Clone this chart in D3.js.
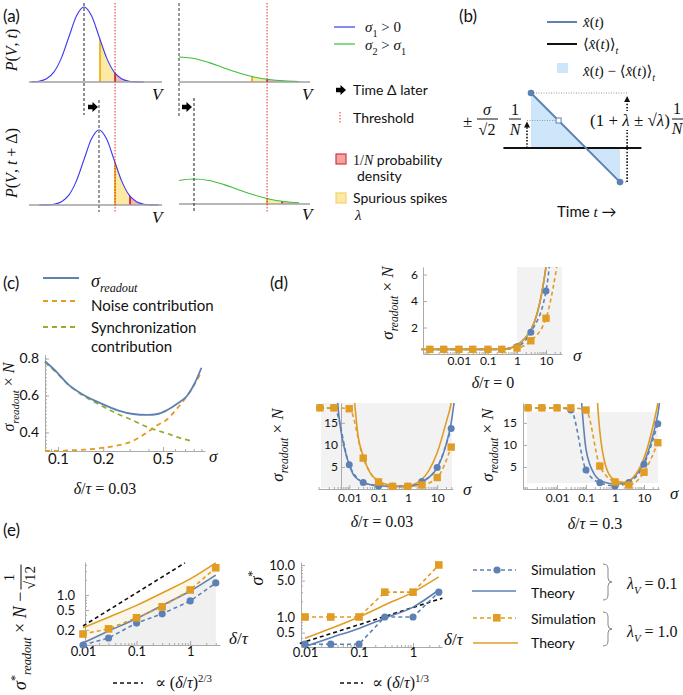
<!DOCTYPE html>
<html lang="en">
<head>
<meta charset="utf-8">
<title>Readout error figure</title>
<style>
  body{ margin:0; background:#fff; }
  svg{ display:block; }
</style>
</head>
<body>
<div id="chart"></div>
<script src="https://d3js.org/d3.v7.min.js"></script>
<script>
// ---------------- values ----------------
// (a) pulse shapes: height relative to peak, offset from the mean (V units)
const narrowOffsets = [-4,-3.5,-3,-2.5,-2,-1.5,-1,-0.5,0,0.5,1,1.5,2,2.5,3,3.5,4];
const narrowHeights = [0,0.002,0.011,0.044,0.135,0.325,0.607,0.882,1,0.882,0.607,0.325,0.135,0.044,0.011,0.002,0];
const wideOffsets = [-1,0,1,2,3,4,5,6,7,8,9];
const wideHeights = [0.94,1,0.94,0.775,0.563,0.36,0.203,0.1,0.044,0.017,0.006];
const meanShift = 1;
const thrNarrow = 2.07, thrWide = 5.87;

// (b) schematic readout
const bTime = [0, 1];
const bXhat = [1, -0.62];
const bMean = 0;
const bMeanSpan = [-0.31, 1.24];
const bMarkTime = 0.31, bMarkValue = 0.5;

// (c) delta/tau = 0.03
const cSigma    = [0.082,0.1,0.115,0.15,0.19,0.25,0.316,0.39,0.46,0.53,0.62,0.725,0.81,0.9];
const cReadout  = [0.785,0.72,0.665,0.60,0.56,0.52,0.50,0.495,0.50,0.52,0.555,0.60,0.665,0.75];
const cNoise    = [0.30,0.301,0.303,0.307,0.315,0.33,0.355,0.40,0.44,0.47,0.53,0.60,0.66,0.73];
const cSyncSigma = [0.082,0.1,0.115,0.15,0.19,0.25,0.316,0.39,0.46,0.53,0.62,0.725,0.8];
const cSync      = [0.78,0.715,0.665,0.595,0.55,0.50,0.465,0.43,0.41,0.395,0.375,0.36,0.352];

// (d) readout error vs sigma
const dSigma = [0.001,0.003,0.01,0.03,0.1,0.3,1,3,10,30];
const d0SimLow   = [0.35,0.35,0.35,0.35,0.35,0.35,0.55,1.65,4.75,17];
const d0SimHigh  = [0.35,0.35,0.35,0.35,0.35,0.35,0.45,1.0,2.7,8];
const d03SimLow  = [18.4,18.4,5.5,1.5,0.7,0.6,0.6,1.7,4.9,13.7];
const d03SimHigh = [18.4,18.4,18.2,7.0,1.6,0.6,0.6,0.9,2.6,9.5];
const d3SimLow   = [18.4,18.4,18.4,17.9,4.3,1.4,0.7,1.5,5.6,14.8];
const d3SimHigh  = [18.4,18.4,18.4,18.4,17.9,5.2,1.6,0.9,3.8,10.5];
const d0TheorySigma = [0.0005,0.001,0.01,0.1,0.3,0.6,1,2,3,5,7,10,15];
const d0TheoryLow   = [0.35,0.35,0.35,0.35,0.36,0.45,0.68,1.25,1.8,3.1,4.5,6.6,10];
const d0TheoryHigh  = [0.35,0.35,0.35,0.35,0.36,0.45,0.68,1.25,1.8,3.1,4.5,6.6,10];
const dTheorySigma  = [0.003,0.004,0.005,0.007,0.01,0.014,0.02,0.03,0.05,0.1,0.2,0.3,0.6,1,2,3,5,10,20,30,40];
const d03TheoryLow  = [40,20,14,9,5.5,3.2,2.2,1.5,1.0,0.72,0.62,0.6,0.6,0.62,0.9,1.5,2.5,4.8,10,15,21];
const d03TheoryHigh = [100,80,60,45,30,22,12,7.5,3.8,1.8,1.0,0.8,0.68,0.75,1.4,2.2,4.0,8.2,15,19.5,25];
const d3TheoryLow   = [200,180,160,130,100,80,60,45,32,9,3.2,2.0,1.3,1.1,1.3,1.8,3.0,6.0,12,17,23];
const d3TheoryHigh  = [300,280,260,230,200,180,160,150,150,80,30,13,3.5,2.0,1.5,1.9,3.2,7.0,14,19.5,25];

// (e) optimum vs delta/tau
const eRatio = [0.01,0.03,0.1,0.3,1,3];
const eLeftSimLow     = [0.1,0.138,0.275,0.42,0.76,1.74];
const eLeftSimHigh    = [0.166,0.21,0.35,0.58,1.26,3.5];
const eLeftTheoryLow  = [0.11,0.19,0.34,0.62,1.2,2.5];
const eLeftTheoryHigh = [0.22,0.36,0.62,1.1,2.1,4.4];
const eLeftRefX = [0.01, 0.8], eLeftRefY = [0.24, 4.4];
const eMidSimLow      = [0.3,0.3,0.3,1.0,1.0,3.0];
const eMidSimHigh     = [1,1,1,3,3,10];
const eMidTheoryLow   = [0.27,0.4,0.6,0.95,1.55,3.3];
const eMidTheoryHigh  = [0.39,0.6,1.0,1.7,3.0,5.9];
const eMidRefX = [0.008, 3.5], eMidRefY = [0.31, 2.3];

// ---------------- drawing ----------------
const W = 683, H = 695;
const sans = "Lato, 'Open Sans', sans-serif";
const serif = "'Liberation Serif', 'DejaVu Serif', serif";
const blue = '#5e81b5', orange = '#e19c24', green = '#8fb032';
const gaussBlue = '#3a3af0', gaussGreen = '#3cbf3c';

const svg = d3.select('#chart').append('svg').attr('width', W).attr('height', H);
svg.append('rect').attr('width', W).attr('height', H).attr('fill', '#fff');

function mtext(parent, x, y, parts, size, anchor){
  const t = parent.append('text').attr('x', x).attr('y', y)
    .attr('font-family', serif).attr('font-size', size)
    .attr('text-anchor', anchor || 'start').attr('fill', '#111');
  let shift = 0;
  parts.forEach(([str, st]) => {
    const s = t.append('tspan').text(str);
    let target = 0;
    if (st.includes('b')) target = size * 0.3;
    if (st.includes('p')) target = -size * 0.4;
    if (st.includes('b') || st.includes('p')) s.attr('font-size', size * 0.68);
    if (target !== shift){ s.attr('dy', target - shift); shift = target; }
    if (st.includes('i')) s.attr('font-style', 'italic');
    if (st.includes('s')) s.attr('font-family', sans);
  });
  return t;
}
function stext(parent, x, y, str, size, anchor){
  return parent.append('text').attr('x', x).attr('y', y).attr('font-family', sans)
    .attr('font-size', size).attr('text-anchor', anchor || 'start').attr('fill', '#111').text(str);
}
function seg(parent, x1, y1, x2, y2, color, width, dash){
  const l = parent.append('line').attr('x1', x1).attr('y1', y1).attr('x2', x2).attr('y2', y2)
    .attr('stroke', color).attr('stroke-width', width);
  if (dash) l.attr('stroke-dasharray', dash);
  return l;
}
function rotLabel(parent, cx, cy, parts, size){
  const g = parent.append('g').attr('transform', 'translate(' + cx + ',' + cy + ') rotate(-90)');
  mtext(g, 0, size * 0.3, parts, size, 'middle');
}
function blockArrow(parent, x, y){
  parent.append('path').attr('transform', 'translate(' + x + ',' + y + ')')
    .attr('d', 'M0,-2.2H4.5V-5L10,0L4.5,5V2.2H0Z').attr('fill', '#000');
}
function axis(parent, kind, scale, at, major, minor, fmt, fs, pad){
  const mk = kind === 'x' ? d3.axisBottom : d3.axisLeft;
  const tr = kind === 'x' ? 'translate(0,' + at + ')' : 'translate(' + at + ',0)';
  const dom = scale.domain();
  const lo = Math.min(dom[0], dom[1]), hi = Math.max(dom[0], dom[1]);
  if (minor){
    parent.append('g').attr('transform', tr)
      .call(mk(scale).tickValues(minor.filter(v => v >= lo && v <= hi)).tickSize(-2).tickFormat(''))
      .call(s => { s.select('.domain').remove(); s.selectAll('line').attr('stroke', '#aaa'); });
  }
  const g = parent.append('g').attr('transform', tr)
    .call(mk(scale).tickValues(major).tickSize(-4).tickSizeOuter(0).tickPadding(pad).tickFormat(fmt));
  g.select('.domain').attr('stroke', '#aaa');
  g.selectAll('line').attr('stroke', '#aaa');
  g.selectAll('text').attr('font-family', sans).attr('font-size', fs).attr('fill', '#111');
  return g;
}
const minorLog = [2,3,4,5,6,7,8,9].flatMap(m => [0.0001,0.001,0.01,0.1,1,10].map(e => +(m * e).toPrecision(3)));
const readoutLabel = [['σ','i'],['readout','ib'],[' × ',''],['N','i']];

// panel letters
stext(svg, 3, 22, '(a)', 17);
stext(svg, 459, 22, '(b)', 17);
stext(svg, 3, 289, '(c)', 17);
stext(svg, 270, 289, '(d)', 17);
stext(svg, 3, 536, '(e)', 17);

// ===== (a) =====
const xNarrow = d3.scaleLinear().domain([-3.67, 5.2]).range([29, 162]);
const xWide = d3.scaleLinear().domain([0, 8.73]).range([179, 310]);
const aPlots = [
  {x: xNarrow, offs: narrowOffsets, h: narrowHeights, mean: 0, base: 82, peak: 7, color: gaussBlue, thr: thrNarrow, after: false},
  {x: xNarrow, offs: narrowOffsets, h: narrowHeights, mean: meanShift, base: 205, peak: 130, color: gaussBlue, thr: thrNarrow, after: true},
  {x: xWide, offs: wideOffsets, h: wideHeights, mean: 0, base: 82, peak: 57, color: gaussGreen, thr: thrWide, after: false},
  {x: xWide, offs: wideOffsets, h: wideHeights, mean: meanShift, base: 204, peak: 179, color: gaussGreen, thr: thrWide, after: true}
];
aPlots.forEach((p, i) => {
  const y = d3.scaleLinear().domain([0, 1]).range([p.base, p.peak]);
  const [d0, d1] = p.x.domain();
  const pts = p.offs.map((o, k) => [p.mean + o, p.h[k]]).filter(q => q[0] >= d0 - 1e-6 && q[0] <= d1);
  const area = d3.area().x(q => p.x(q[0])).y0(p.base).y1(q => y(q[1])).curve(d3.curveMonotoneX);
  const line = d3.line().x(q => p.x(q[0])).y(q => y(q[1])).curve(d3.curveMonotoneX);
  svg.append('clipPath').attr('id', 'pa' + i).append('path').attr('d', area(pts));
  const yl = p.after ? p.thr : p.thr - meanShift;
  const rl = yl + meanShift;
  const g = svg.append('g').attr('clip-path', 'url(#pa' + i + ')');
  g.append('rect').attr('x', p.x(yl)).attr('y', p.peak).attr('width', p.x(rl) - p.x(yl))
    .attr('height', p.base - p.peak).attr('fill', '#fde9a6');
  g.append('rect').attr('x', p.x(rl)).attr('y', p.peak).attr('width', p.x(d1) - p.x(rl))
    .attr('height', p.base - p.peak).attr('fill', '#f6b8b8');
  seg(g, p.x(yl), p.peak, p.x(yl), p.base, '#f2b320', 2);
  seg(g, p.x(rl), p.peak, p.x(rl), p.base, '#d0393b', 2);
  svg.append('path').attr('d', line(pts)).attr('fill', 'none').attr('stroke', p.color).attr('stroke-width', 1.1);
  seg(svg, p.x.range()[0], p.base, p.x.range()[1], p.base, '#a0a0a0', 1.5);
});
seg(svg, xNarrow(0), 3, xNarrow(0), 115, '#222', 1, '3,2');
seg(svg, xNarrow(meanShift), 100, xNarrow(meanShift), 212, '#999', 2, '3,2');
seg(svg, xWide(0), 3, xWide(0), 116, '#999', 2, '3,2');
seg(svg, xWide(meanShift), 98, xWide(meanShift), 212, '#222', 1, '3,2');
seg(svg, xNarrow(thrNarrow), 3, xNarrow(thrNarrow), 212, '#e03030', 1, '1.5,1.5');
seg(svg, xWide(thrWide), 3, xWide(thrWide), 212, '#e03030', 1, '1.5,1.5');
blockArrow(svg, 88, 107);
blockArrow(svg, 182, 107);
[[152, 100], [152, 223], [302, 100], [302, 220]].forEach(([x, y]) => mtext(svg, x, y, [['V','i']], 17));
rotLabel(svg, 12, 50, [['P','i'],['(',''],['V','i'],[', ',''],['t','i'],[')','']], 16);
rotLabel(svg, 12, 163, [['P','i'],['(',''],['V','i'],[', ',''],['t','i'],[' + Δ)','']], 16);

// legend (a)
seg(svg, 334, 27, 355, 27, gaussBlue, 1.2);
mtext(svg, 365, 32, [['σ','i'],['1','b'],[' > 0','']], 15);
seg(svg, 334, 44, 355, 44, gaussGreen, 1.2);
mtext(svg, 365, 50, [['σ','i'],['2','b'],[' > ',''],['σ','i'],['1','b']], 15);
blockArrow(svg, 336, 90);
stext(svg, 353, 95, 'Time Δ later', 14);
seg(svg, 340, 112, 340, 124, '#e03030', 1, '1.5,1.5');
stext(svg, 353, 123, 'Threshold', 14);
svg.append('rect').attr('x', 336).attr('y', 154).attr('width', 10).attr('height', 10)
  .attr('fill', '#f4a3a3').attr('stroke', '#d0393b').attr('stroke-width', 1.2);
mtext(svg, 353, 165, [['1/',''],['N','i'],[' probability','s']], 14);
stext(svg, 357, 181, 'density', 14);
svg.append('rect').attr('x', 336).attr('y', 193).attr('width', 10).attr('height', 10)
  .attr('fill', '#fde9a6').attr('stroke', '#f5d06a').attr('stroke-width', 1.2);
stext(svg, 353, 203, 'Spurious spikes', 14);
mtext(svg, 355, 220, [['λ','i']], 15);

// ===== (b) =====
const bx = d3.scaleLinear().domain([0, 1]).range([531, 620]);
const by = d3.scaleLinear().domain([-1, 1]).range([203, 93]);
const bCross = bTime[0] + (bTime[1] - bTime[0]) * (bXhat[0] - bMean) / (bXhat[0] - bXhat[1]);
svg.append('path').attr('fill', '#cde6fa').attr('d',
  'M' + bx(bTime[0]) + ',' + by(bXhat[0]) + 'L' + bx(bTime[0]) + ',' + by(bMean) + 'L' + bx(bCross) + ',' + by(bMean) + 'Z' +
  'M' + bx(bCross) + ',' + by(bMean) + 'L' + bx(bTime[1]) + ',' + by(bMean) + 'L' + bx(bTime[1]) + ',' + by(bXhat[1]) + 'Z');
seg(svg, bx(bTime[0]), by(bXhat[0]), bx(1.08), by(bXhat[0]), '#999', 1, '1,1.5');
seg(svg, bx(-0.045), by(bMarkValue), bx(bMarkTime), by(bMarkValue), '#999', 1, '1,1.5');
seg(svg, bx(bTime[1]), by(bXhat[1]), bx(1.08), by(bXhat[1]), '#999', 1, '1,1.5');
seg(svg, bx(bMeanSpan[0]), by(bMean), bx(bMeanSpan[1]), by(bMean), '#111', 2);
function dotArrow(x, y1, y2){
  seg(svg, x, y1, x, y2 + 5, '#111', 1.6, '1.6,1.6');
  svg.append('path').attr('d', 'M' + (x - 3) + ',' + (y2 + 6) + 'L' + x + ',' + y2 + 'L' + (x + 3) + ',' + (y2 + 6) + 'Z').attr('fill', '#111');
}
dotArrow(bx(-0.045), by(bMean), by(bMarkValue) + 1);
dotArrow(bx(1.08), by(bXhat[1]), by(bXhat[0]) + 3);
svg.append('line').attr('x1', bx(bTime[0])).attr('y1', by(bXhat[0])).attr('x2', bx(bTime[1])).attr('y2', by(bXhat[1]))
  .attr('stroke', blue).attr('stroke-width', 2);
svg.selectAll(null).data(bTime).enter().append('circle')
  .attr('cx', d => bx(d)).attr('cy', (d, i) => by(bXhat[i])).attr('r', 3.3).attr('fill', blue);
svg.append('rect').attr('x', bx(bMarkTime) - 2.5).attr('y', by(bMarkValue) - 2.5).attr('width', 5).attr('height', 5)
  .attr('fill', '#fff').attr('stroke', blue).attr('stroke-width', 1);
// formulas
mtext(svg, 463, 127, [['±','']], 17);
mtext(svg, 487, 115, [['σ','i']], 16, 'middle');
seg(svg, 477, 119, 498, 119, '#111', 1);
mtext(svg, 487, 135, [['√2','']], 16, 'middle');
mtext(svg, 515, 115, [['1','']], 16, 'middle');
seg(svg, 509, 119, 521, 119, '#111', 1);
mtext(svg, 515, 135, [['N','i']], 16, 'middle');
svg.append('rect').attr('x', 590).attr('y', 111).attr('width', 80).attr('height', 19).attr('fill', '#fff');
mtext(svg, 590, 126, [['(1 + ',''],['λ','i'],[' ± √',''],['λ','i'],[')','']], 17);
mtext(svg, 677, 114, [['1','']], 16, 'middle');
seg(svg, 672, 119, 683, 119, '#111', 1);
mtext(svg, 677, 134, [['N','i']], 16, 'middle');
mtext(svg, 557, 217, [['Time ','s'],['t','i'],[' →','s']], 15);
// legend (b)
seg(svg, 547, 22, 577, 22, blue, 2);
mtext(svg, 583, 27, [['x̂','i'],['(',''],['t','i'],[')','']], 15);
seg(svg, 547, 44, 577, 44, '#111', 2);
mtext(svg, 583, 49, [['⟨',''],['x̂','i'],['(',''],['t','i'],[')⟩',''],['t','ib']], 15);
svg.append('rect').attr('x', 557).attr('y', 63).attr('width', 11).attr('height', 10).attr('fill', '#cde6fa');
mtext(svg, 583, 76, [['x̂','i'],['(',''],['t','i'],[') − ⟨',''],['x̂','i'],['(',''],['t','i'],[')⟩',''],['t','ib']], 15);

// ===== (c) =====
const xC = d3.scaleLog().domain([0.082, 0.95]).range([45, 205]);
const yC = d3.scaleLinear().domain([0.3, 0.82]).range([451, 354.8]);
axis(svg, 'x', xC, 451, [0.1, 0.2, 0.5], [0.09,0.3,0.4,0.6,0.7,0.8,0.9], d3.format('.1f'), 15, 2);
axis(svg, 'y', yC, 45, [0.4, 0.6, 0.8], d3.range(0.32, 0.81, 0.02), d3.format('.1f'), 14, 6);
const lineC = xs => d3.line().x((d, i) => xC(xs[i])).y(d => yC(d)).curve(d3.curveMonotoneX);
svg.append('path').attr('d', lineC(cSyncSigma)(cSync)).attr('fill', 'none').attr('stroke', green).attr('stroke-width', 1.8).attr('stroke-dasharray', '5,4');
svg.append('path').attr('d', lineC(cSigma)(cNoise)).attr('fill', 'none').attr('stroke', orange).attr('stroke-width', 1.8).attr('stroke-dasharray', '5,4');
svg.append('path').attr('d', lineC(cSigma)(cReadout)).attr('fill', 'none').attr('stroke', blue).attr('stroke-width', 1.8);
mtext(svg, 209, 462, [['σ','i']], 17);
rotLabel(svg, 9, 397, readoutLabel, 16);
mtext(svg, 105, 494, [['δ','i'],['/',''],['τ','i'],[' = 0.03','']], 16, 'middle');
seg(svg, 43, 278, 79, 278, blue, 1.8);
mtext(svg, 91, 287, [['σ','i'],['readout','ib']], 18);
seg(svg, 43, 301, 79, 301, orange, 1.8, '5,4');
stext(svg, 91, 311, 'Noise contribution', 15);
seg(svg, 43, 327, 79, 327, green, 1.8, '5,4');
stext(svg, 91, 333, 'Synchronization', 15);
stext(svg, 91, 352, 'contribution', 15);

// ===== (d) =====
function dPanel(o){
  const x = d3.scaleLog().domain(o.xdom).range(o.xr);
  const y = d3.scaleLinear().domain([0, o.ymax]).range([o.yb, o.yt]);
  const g = svg.append('g');
  if (o.shade) g.append('rect').attr('x', o.shade[0]).attr('y', o.shade[2])
    .attr('width', o.shade[1] - o.shade[0]).attr('height', o.shade[3] - o.shade[2]).attr('fill', '#f2f2f2');
  axis(g, 'x', x, o.yb, [0.01, 0.1, 1, 10], minorLog, d => String(d), 12, o.xpad);
  axis(g, 'y', y, o.yax, o.yticks, null, d => String(d), 12, o.ypad);
  g.append('clipPath').attr('id', 'clip' + o.id).append('rect')
    .attr('x', o.xr[0] - 8).attr('y', o.yt).attr('width', o.xr[1] - o.xr[0] + 16).attr('height', o.yb - o.yt + 8);
  const pg = g.append('g').attr('clip-path', 'url(#clip' + o.id + ')');
  const ln = xs => d3.line().x((d, i) => x(xs[i])).y(d => y(d)).curve(d3.curveMonotoneX);
  pg.append('path').attr('d', ln(o.ts)(o.tLow)).attr('fill', 'none').attr('stroke', blue).attr('stroke-width', 1.6);
  pg.append('path').attr('d', ln(o.ts)(o.tHigh)).attr('fill', 'none').attr('stroke', orange).attr('stroke-width', 1.6);
  pg.append('path').attr('d', ln(dSigma)(o.sLow)).attr('fill', 'none').attr('stroke', blue).attr('stroke-width', 1.6).attr('stroke-dasharray', '4,3');
  pg.append('path').attr('d', ln(dSigma)(o.sHigh)).attr('fill', 'none').attr('stroke', orange).attr('stroke-width', 1.6).attr('stroke-dasharray', '4,3');
  pg.selectAll(null).data(o.sLow).enter().append('circle')
    .attr('cx', (d, i) => x(dSigma[i])).attr('cy', d => y(d)).attr('r', 3.5).attr('fill', blue);
  pg.selectAll(null).data(o.sHigh).enter().append('rect')
    .attr('x', (d, i) => x(dSigma[i]) - 3.7).attr('y', d => y(d) - 3.7).attr('width', 7.4).attr('height', 7.4).attr('fill', orange);
  mtext(svg, o.sig[0], o.sig[1], [['σ','i']], 17);
  rotLabel(svg, o.lab[0], o.lab[1], readoutLabel, 17);
  mtext(svg, o.cap[0], o.cap[1], [['δ','i'],['/',''],['τ','i'],[o.capText,'']], 16, 'middle');
}
dPanel({id: 'd0', xdom: [0.00058, 35.5], xr: [423, 562], ymax: 6.57, yb: 354, yt: 267, yax: 423,
  yticks: [2, 4, 6], ypad: 5, xpad: 2, shade: [517, 562, 267, 354],
  ts: d0TheorySigma, tLow: d0TheoryLow, tHigh: d0TheoryHigh, sLow: d0SimLow, sHigh: d0SimHigh,
  sig: [573, 361], lab: [388, 303], cap: [493, 388], capText: ' = 0'});
dPanel({id: 'd03', xdom: [0.00086, 34.6], xr: [318, 453], ymax: 19.5, yb: 489, yt: 403, yax: 341,
  yticks: [5, 10, 15], ypad: 3, xpad: 4, shade: [321, 452, 403, 488],
  ts: dTheorySigma, tLow: d03TheoryLow, tHigh: d03TheoryHigh, sLow: d03SimLow, sHigh: d03SimHigh,
  sig: [463, 495], lab: [278, 445], cap: [382, 527], capText: ' =  0.03'});
dPanel({id: 'd3', xdom: [0.00067, 32.9], xr: [523, 659], ymax: 19.5, yb: 489, yt: 403, yax: 523,
  yticks: [5, 10, 15], ypad: 6, xpad: 4, shade: [527, 658, 412, 483],
  ts: dTheorySigma, tLow: d3TheoryLow, tHigh: d3TheoryHigh, sLow: d3SimLow, sHigh: d3SimHigh,
  sig: [670, 499], lab: [488, 445], cap: [595, 529], capText: ' =  0.3'});

// ===== (e) =====
function eSeries(g, x, y, sim, theory, color, marker){
  const th = d3.line().x((d, i) => x(eRatio[i])).y(d => y(d)).curve(d3.curveMonotoneX);
  const sl = d3.line().x((d, i) => x(eRatio[i])).y(d => y(d));
  g.append('path').attr('d', th(theory)).attr('fill', 'none').attr('stroke', color).attr('stroke-width', 1.6);
  g.append('path').attr('d', sl(sim)).attr('fill', 'none').attr('stroke', color).attr('stroke-width', 1.6).attr('stroke-dasharray', '4,3');
  if (marker === 'c') g.selectAll(null).data(sim).enter().append('circle')
    .attr('cx', (d, i) => x(eRatio[i])).attr('cy', d => y(d)).attr('r', 3.6).attr('fill', color);
  else g.selectAll(null).data(sim).enter().append('rect')
    .attr('x', (d, i) => x(eRatio[i]) - 3.8).attr('y', d => y(d) - 3.8).attr('width', 7.6).attr('height', 7.6).attr('fill', color);
}
// left
const xEL = d3.scaleLog().domain([0.0109, 3.6]).range([85, 220]);
const yEL = d3.scaleLog().domain([0.1, 4.57]).range([645, 562]);
const areaEL = vals => d3.area().x((d, i) => xEL(eRatio[i])).y0(645).y1(d => yEL(d)).curve(d3.curveMonotoneX)(vals);
svg.append('path').attr('d', areaEL(eLeftTheoryHigh)).attr('fill', '#fbf6ea');
svg.append('path').attr('d', areaEL(eLeftTheoryLow)).attr('fill', '#f0f0f0');
axis(svg, 'x', xEL, 645, [0.01, 0.1, 1], minorLog, d => String(d), 13, 2);
axis(svg, 'y', yEL, 85, [0.2, 0.5, 1.0], [0.1,0.3,0.4,0.6,0.7,0.8,0.9,2,3,4], d3.format('.1f'), 13, 10);
svg.append('path').attr('d', d3.line().x((d, i) => xEL(eLeftRefX[i])).y(d => yEL(d))(eLeftRefY))
  .attr('fill', 'none').attr('stroke', '#111').attr('stroke-width', 1.6).attr('stroke-dasharray', '4,3');
eSeries(svg, xEL, yEL, eLeftSimLow, eLeftTheoryLow, blue, 'c');
eSeries(svg, xEL, yEL, eLeftSimHigh, eLeftTheoryHigh, orange, 's');
mtext(svg, 229, 644, [['δ','i'],['/',''],['τ','i']], 17);
// y label with fraction
const eLab = svg.append('g').attr('transform', 'translate(20,690) rotate(-90)');
const eMain = mtext(eLab, 0, 6, [['σ','i'],['*','p'],['readout','ib'],[' × ',''],['N','i'],[' − ','']], 18);
const eLen = eMain.node().getComputedTextLength();
mtext(eLab, eLen + 14, -6, [['1','']], 15, 'middle');
seg(eLab, eLen + 2, 1, eLen + 27, 1, '#111', 1);
mtext(eLab, eLen + 14, 15, [['√12','']], 15, 'middle');
seg(svg, 113, 683, 143, 683, '#111', 1.6, '4,3');
mtext(svg, 155, 688, [['∝ (',''],['δ','i'],['/',''],['τ','i'],[')',''],['2/3','p']], 16);

// middle
const xEM = d3.scaleLog().domain([0.00843, 3.44]).range([301, 442]);
const yEM = d3.scaleLog().domain([0.265, 11.4]).range([647, 562]);
axis(svg, 'x', xEM, 647, [0.01, 0.1, 1], minorLog, d => String(d), 13, 1);
axis(svg, 'y', yEM, 301, [0.5, 1.0, 5.0, 10.0], [0.3,0.4,0.6,0.7,0.8,0.9,2,3,4,6,7,8,9], d3.format('.1f'), 13, 6);
svg.append('path').attr('d', d3.line().x((d, i) => xEM(eMidRefX[i])).y(d => yEM(d))(eMidRefY))
  .attr('fill', 'none').attr('stroke', '#111').attr('stroke-width', 1.6).attr('stroke-dasharray', '4,3');
eSeries(svg, xEM, yEM, eMidSimLow, eMidTheoryLow, blue, 'c');
eSeries(svg, xEM, yEM, eMidSimHigh, eMidTheoryHigh, orange, 's');
mtext(svg, 444, 645, [['δ','i'],['/',''],['τ','i']], 17);
rotLabel(svg, 258, 578, [['σ','i'],['*','p']], 18);
seg(svg, 340, 683, 363, 683, '#111', 1.6, '4,3');
mtext(svg, 372, 688, [['∝ (',''],['δ','i'],['/',''],['τ','i'],[')',''],['1/3','p']], 16);

// legend (e)
seg(svg, 473, 570, 516, 570, blue, 1.6, '4,3');
svg.append('circle').attr('cx', 497).attr('cy', 570).attr('r', 3.6).attr('fill', blue);
stext(svg, 531, 575, 'Simulation', 14);
seg(svg, 472, 591, 516, 591, blue, 1.6);
stext(svg, 531, 598, 'Theory', 14);
seg(svg, 473, 618, 516, 618, orange, 1.6, '4,3');
svg.append('rect').attr('x', 493).attr('y', 614).attr('width', 7.6).attr('height', 7.6).attr('fill', orange);
stext(svg, 531, 624, 'Simulation', 14);
seg(svg, 473, 643, 518, 643, orange, 1.6);
stext(svg, 531, 648, 'Theory', 14);
function brace(y1, y2){
  const m = (y1 + y2) / 2;
  svg.append('path').attr('fill', 'none').attr('stroke', '#888').attr('stroke-width', 1)
    .attr('d', 'M603,' + y1 + 'Q608,' + y1 + ' 608,' + (y1 + 5) + 'V' + (m - 4) + 'Q608,' + m + ' 612,' + m +
      'Q608,' + m + ' 608,' + (m + 4) + 'V' + (y2 - 5) + 'Q608,' + y2 + ' 603,' + y2);
}
brace(564, 600);
brace(612, 646);
mtext(svg, 627, 589, [['λ','i'],['V','ib'],[' = 0.1','']], 16);
mtext(svg, 627, 637, [['λ','i'],['V','ib'],[' = 1.0','']], 16);
</script>
</body>
</html>
